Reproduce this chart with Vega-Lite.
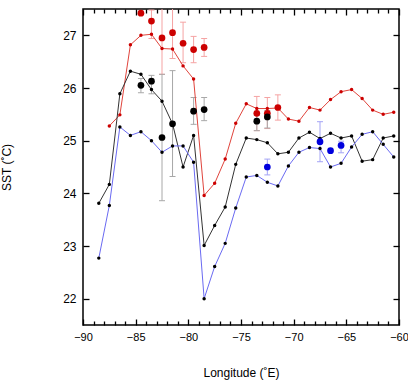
{
  "$schema": "https://vega.github.io/schema/vega-lite/v6.json",
  "width": 316,
  "height": 316,
  "autosize": "none",
  "padding": {"left": 83, "top": 9, "right": 9, "bottom": 60},
  "background": "white",
  "config": {
    "view": {"stroke": "#000", "strokeWidth": 1.5},
    "font": "Liberation Sans",
    "axis": {"domain": false, "grid": false, "labelFlush": false, "labelFont": "Liberation Sans", "titleFont": "Liberation Sans", "labelFontSize": 12, "titleFontSize": 12, "titleFontWeight": "normal", "labelColor": "#000", "titleColor": "#000", "tickColor": "#000", "tickWidth": 1.3}
  },
  "datasets": {
    "lines": [
      {"series": "red", "lon": -87.5, "sst": 25.28},
      {"series": "red", "lon": -86.5, "sst": 25.49},
      {"series": "red", "lon": -85.5, "sst": 26.82},
      {"series": "red", "lon": -84.5, "sst": 27.0},
      {"series": "red", "lon": -83.5, "sst": 27.02},
      {"series": "red", "lon": -82.5, "sst": 26.75},
      {"series": "red", "lon": -81.5, "sst": 26.74},
      {"series": "red", "lon": -80.5, "sst": 26.42},
      {"series": "red", "lon": -79.5, "sst": 26.17},
      {"series": "red", "lon": -78.5, "sst": 23.96},
      {"series": "red", "lon": -77.5, "sst": 24.19},
      {"series": "red", "lon": -76.5, "sst": 24.65},
      {"series": "red", "lon": -75.5, "sst": 25.33},
      {"series": "red", "lon": -74.5, "sst": 25.7},
      {"series": "red", "lon": -73.5, "sst": 25.61},
      {"series": "red", "lon": -72.5, "sst": 25.61},
      {"series": "red", "lon": -71.5, "sst": 25.62},
      {"series": "red", "lon": -70.5, "sst": 25.41},
      {"series": "red", "lon": -69.5, "sst": 25.37},
      {"series": "red", "lon": -68.5, "sst": 25.63},
      {"series": "red", "lon": -67.5, "sst": 25.58},
      {"series": "red", "lon": -66.5, "sst": 25.78},
      {"series": "red", "lon": -65.5, "sst": 25.93},
      {"series": "red", "lon": -64.5, "sst": 25.97},
      {"series": "red", "lon": -63.5, "sst": 25.8},
      {"series": "red", "lon": -62.5, "sst": 25.58},
      {"series": "red", "lon": -61.5, "sst": 25.5},
      {"series": "red", "lon": -60.5, "sst": 25.54},
      {"series": "black", "lon": -88.5, "sst": 23.81},
      {"series": "black", "lon": -87.5, "sst": 24.17},
      {"series": "black", "lon": -86.5, "sst": 25.89},
      {"series": "black", "lon": -85.5, "sst": 26.32},
      {"series": "black", "lon": -84.5, "sst": 26.26},
      {"series": "black", "lon": -83.5, "sst": 25.97},
      {"series": "black", "lon": -82.5, "sst": 25.75},
      {"series": "black", "lon": -81.5, "sst": 25.32},
      {"series": "black", "lon": -80.5, "sst": 24.5},
      {"series": "black", "lon": -79.5, "sst": 25.1},
      {"series": "black", "lon": -78.5, "sst": 23.01},
      {"series": "black", "lon": -77.5, "sst": 23.39},
      {"series": "black", "lon": -76.5, "sst": 23.74},
      {"series": "black", "lon": -75.5, "sst": 24.55},
      {"series": "black", "lon": -74.5, "sst": 25.05},
      {"series": "black", "lon": -73.5, "sst": 25.02},
      {"series": "black", "lon": -72.5, "sst": 24.96},
      {"series": "black", "lon": -71.5, "sst": 24.75},
      {"series": "black", "lon": -70.5, "sst": 24.78},
      {"series": "black", "lon": -69.5, "sst": 25.05},
      {"series": "black", "lon": -68.5, "sst": 25.16},
      {"series": "black", "lon": -67.5, "sst": 25.04},
      {"series": "black", "lon": -66.5, "sst": 25.14},
      {"series": "black", "lon": -65.5, "sst": 25.05},
      {"series": "black", "lon": -64.5, "sst": 25.09},
      {"series": "black", "lon": -63.5, "sst": 24.61},
      {"series": "black", "lon": -62.5, "sst": 24.64},
      {"series": "black", "lon": -61.5, "sst": 25.05},
      {"series": "black", "lon": -60.5, "sst": 25.09},
      {"series": "blue", "lon": -88.5, "sst": 22.77},
      {"series": "blue", "lon": -87.5, "sst": 23.77},
      {"series": "blue", "lon": -86.5, "sst": 25.26},
      {"series": "blue", "lon": -85.5, "sst": 25.1},
      {"series": "blue", "lon": -84.5, "sst": 25.17},
      {"series": "blue", "lon": -83.5, "sst": 25.0},
      {"series": "blue", "lon": -82.5, "sst": 24.78},
      {"series": "blue", "lon": -81.5, "sst": 24.9},
      {"series": "blue", "lon": -80.5, "sst": 24.9},
      {"series": "blue", "lon": -79.5, "sst": 24.59},
      {"series": "blue", "lon": -78.5, "sst": 22.0},
      {"series": "blue", "lon": -77.5, "sst": 22.61},
      {"series": "blue", "lon": -76.5, "sst": 23.05},
      {"series": "blue", "lon": -75.5, "sst": 23.72},
      {"series": "blue", "lon": -74.5, "sst": 24.31},
      {"series": "blue", "lon": -73.5, "sst": 24.34},
      {"series": "blue", "lon": -72.5, "sst": 24.21},
      {"series": "blue", "lon": -71.5, "sst": 24.14},
      {"series": "blue", "lon": -70.5, "sst": 24.52},
      {"series": "blue", "lon": -69.5, "sst": 24.78},
      {"series": "blue", "lon": -68.5, "sst": 24.87},
      {"series": "blue", "lon": -67.5, "sst": 24.85},
      {"series": "blue", "lon": -66.5, "sst": 24.5},
      {"series": "blue", "lon": -65.5, "sst": 24.57},
      {"series": "blue", "lon": -64.5, "sst": 24.88},
      {"series": "blue", "lon": -63.5, "sst": 25.12},
      {"series": "blue", "lon": -62.5, "sst": 25.17},
      {"series": "blue", "lon": -61.5, "sst": 24.93},
      {"series": "blue", "lon": -60.5, "sst": 24.69}
    ],
    "obs": [
      {"series": "red", "lon": -84.5, "sst": 27.42, "lo": null, "hi": null},
      {"series": "red", "lon": -83.5, "sst": 27.27, "lo": 26.94, "hi": 27.48},
      {"series": "red", "lon": -82.5, "sst": 26.95, "lo": 26.26, "hi": 27.64},
      {"series": "red", "lon": -81.5, "sst": 27.05, "lo": 26.56, "hi": 27.54},
      {"series": "red", "lon": -80.5, "sst": 26.85, "lo": 26.48, "hi": 27.25},
      {"series": "red", "lon": -79.5, "sst": 26.73, "lo": 26.48, "hi": 26.98},
      {"series": "red", "lon": -78.5, "sst": 26.77, "lo": 26.6, "hi": 26.94},
      {"series": "red", "lon": -73.5, "sst": 25.52, "lo": 25.19, "hi": 25.84},
      {"series": "red", "lon": -72.5, "sst": 25.52, "lo": 25.23, "hi": 25.82},
      {"series": "red", "lon": -71.5, "sst": 25.63, "lo": 25.39, "hi": 25.87},
      {"series": "black", "lon": -84.5, "sst": 26.05, "lo": 25.91, "hi": 26.18},
      {"series": "black", "lon": -83.5, "sst": 26.13, "lo": 25.89, "hi": 26.24},
      {"series": "black", "lon": -82.5, "sst": 25.06, "lo": 23.86, "hi": 26.26},
      {"series": "black", "lon": -81.5, "sst": 25.32, "lo": 24.32, "hi": 26.33},
      {"series": "black", "lon": -79.5, "sst": 25.56, "lo": 25.31, "hi": 25.82},
      {"series": "black", "lon": -78.5, "sst": 25.59, "lo": 25.38, "hi": 25.82},
      {"series": "black", "lon": -73.5, "sst": 25.37, "lo": 25.19, "hi": 25.48},
      {"series": "black", "lon": -72.5, "sst": 25.45, "lo": 25.24, "hi": 25.57},
      {"series": "blue", "lon": -72.5, "sst": 24.5, "lo": 24.35, "hi": 24.65},
      {"series": "blue", "lon": -67.5, "sst": 24.98, "lo": 24.6, "hi": 25.36},
      {"series": "blue", "lon": -66.5, "sst": 24.81, "lo": null, "hi": null},
      {"series": "blue", "lon": -65.5, "sst": 24.91, "lo": 24.77, "hi": 24.99}
    ]
  },
  "layer": [
    {
      "data": {"name": "obs"},
      "transform": [{"filter": "datum.lo != null"}],
      "mark": {"type": "rule", "strokeWidth": 1, "clip": true},
      "encoding": {
        "x": {"field": "lon", "type": "quantitative", "scale": {"domain": [-90, -60], "nice": false, "zero": false},
              "axis": {"orient": "bottom", "values": [-89,-88,-87,-86,-84,-83,-82,-81,-79,-78,-77,-76,-74,-73,-72,-71,-69,-68,-67,-66,-64,-63,-62,-61], "offset": -4, "tickSize": 4, "labels": false, "title": null}},
        "y": {"field": "lo", "type": "quantitative", "scale": {"domain": [21.5, 27.5], "nice": false, "zero": false}, "axis": null},
        "y2": {"field": "hi"},
        "stroke": {"field": "series", "type": "nominal", "scale": {"domain": ["red", "black", "blue"], "range": ["#f5a3a3", "#a8a8a8", "#a3a3f5"]}, "legend": null}
      }
    },
    {
      "data": {"name": "obs"},
      "transform": [{"filter": "datum.lo != null"}],
      "mark": {"type": "tick", "orient": "horizontal", "size": 6, "thickness": 1, "clip": true, "opacity": 1},
      "encoding": {
        "x": {"field": "lon", "type": "quantitative", "scale": {"domain": [-90, -60], "nice": false, "zero": false},
              "axis": {"orient": "top", "values": [-89,-88,-87,-86,-84,-83,-82,-81,-79,-78,-77,-76,-74,-73,-72,-71,-69,-68,-67,-66,-64,-63,-62,-61], "offset": -4, "tickSize": 4, "labels": false, "title": null}},
        "y": {"field": "lo", "type": "quantitative", "scale": {"domain": [21.5, 27.5], "nice": false, "zero": false}, "axis": null},
        "fill": {"field": "series", "type": "nominal", "scale": {"domain": ["red", "black", "blue"], "range": ["#f5a3a3", "#a8a8a8", "#a3a3f5"]}, "legend": null}
      }
    },
    {
      "data": {"name": "obs"},
      "transform": [{"filter": "datum.lo != null"}],
      "mark": {"type": "tick", "orient": "horizontal", "size": 6, "thickness": 1, "clip": true, "opacity": 1},
      "encoding": {
        "x": {"field": "lon", "type": "quantitative", "scale": {"domain": [-90, -60], "nice": false, "zero": false}, "axis": null},
        "y": {"field": "hi", "type": "quantitative", "scale": {"domain": [21.5, 27.5], "nice": false, "zero": false}, "axis": null},
        "fill": {"field": "series", "type": "nominal", "scale": {"domain": ["red", "black", "blue"], "range": ["#f5a3a3", "#a8a8a8", "#a3a3f5"]}, "legend": null}
      }
    },
    {
      "data": {"name": "lines"},
      "mark": {"type": "line", "strokeWidth": 1},
      "encoding": {
        "x": {"field": "lon", "type": "quantitative", "scale": {"domain": [-90, -60], "nice": false, "zero": false},
              "axis": {"orient": "bottom", "values": [-90, -85, -80, -75, -70, -65, -60], "offset": -6, "tickSize": 6, "labelPadding": 6, "labelFontSize": 11, "title": "Longitude (˚E)", "titlePadding": 25}},
        "y": {"field": "sst", "type": "quantitative", "scale": {"domain": [21.5, 27.5], "nice": false, "zero": false},
              "axis": {"orient": "left", "values": [22, 23, 24, 25, 26, 27], "offset": -6, "tickSize": 6, "labelPadding": 7, "title": "SST (˚C)", "titlePadding": 49}},
        "stroke": {"field": "series", "type": "nominal", "scale": {"domain": ["red", "black", "blue"], "range": ["#e0443c", "#333333", "#6a6af2"]}, "legend": null},
        "order": {"field": "lon", "type": "quantitative"}
      }
    },
    {
      "data": {"name": "lines"},
      "mark": {"type": "point", "filled": true, "size": 12, "opacity": 1},
      "encoding": {
        "x": {"field": "lon", "type": "quantitative", "scale": {"domain": [-90, -60], "nice": false, "zero": false},
              "axis": {"orient": "top", "values": [-90, -85, -80, -75, -70, -65, -60], "offset": -6, "tickSize": 6, "labels": false, "title": null}},
        "y": {"field": "sst", "type": "quantitative", "scale": {"domain": [21.5, 27.5], "nice": false, "zero": false},
              "axis": {"orient": "right", "values": [22, 23, 24, 25, 26, 27], "offset": -6, "tickSize": 6, "labels": false, "title": null}},
        "fill": {"field": "series", "type": "nominal", "scale": {"domain": ["red", "black", "blue"], "range": ["#cc0000", "#000000", "#000000"]}, "legend": null}
      }
    },
    {
      "data": {"name": "obs"},
      "mark": {"type": "point", "filled": true, "size": 45, "opacity": 1},
      "encoding": {
        "x": {"field": "lon", "type": "quantitative", "scale": {"domain": [-90, -60], "nice": false, "zero": false}, "axis": null},
        "y": {"field": "sst", "type": "quantitative", "scale": {"domain": [21.5, 27.5], "nice": false, "zero": false}, "axis": null},
        "fill": {"field": "series", "type": "nominal", "scale": {"domain": ["red", "black", "blue"], "range": ["#cc0000", "#000000", "#0000dd"]}, "legend": null}
      }
    }
  ],
  "resolve": {
    "axis": {"x": "independent", "y": "independent"},
    "scale": {"stroke": "independent", "fill": "independent"}
  }
}
